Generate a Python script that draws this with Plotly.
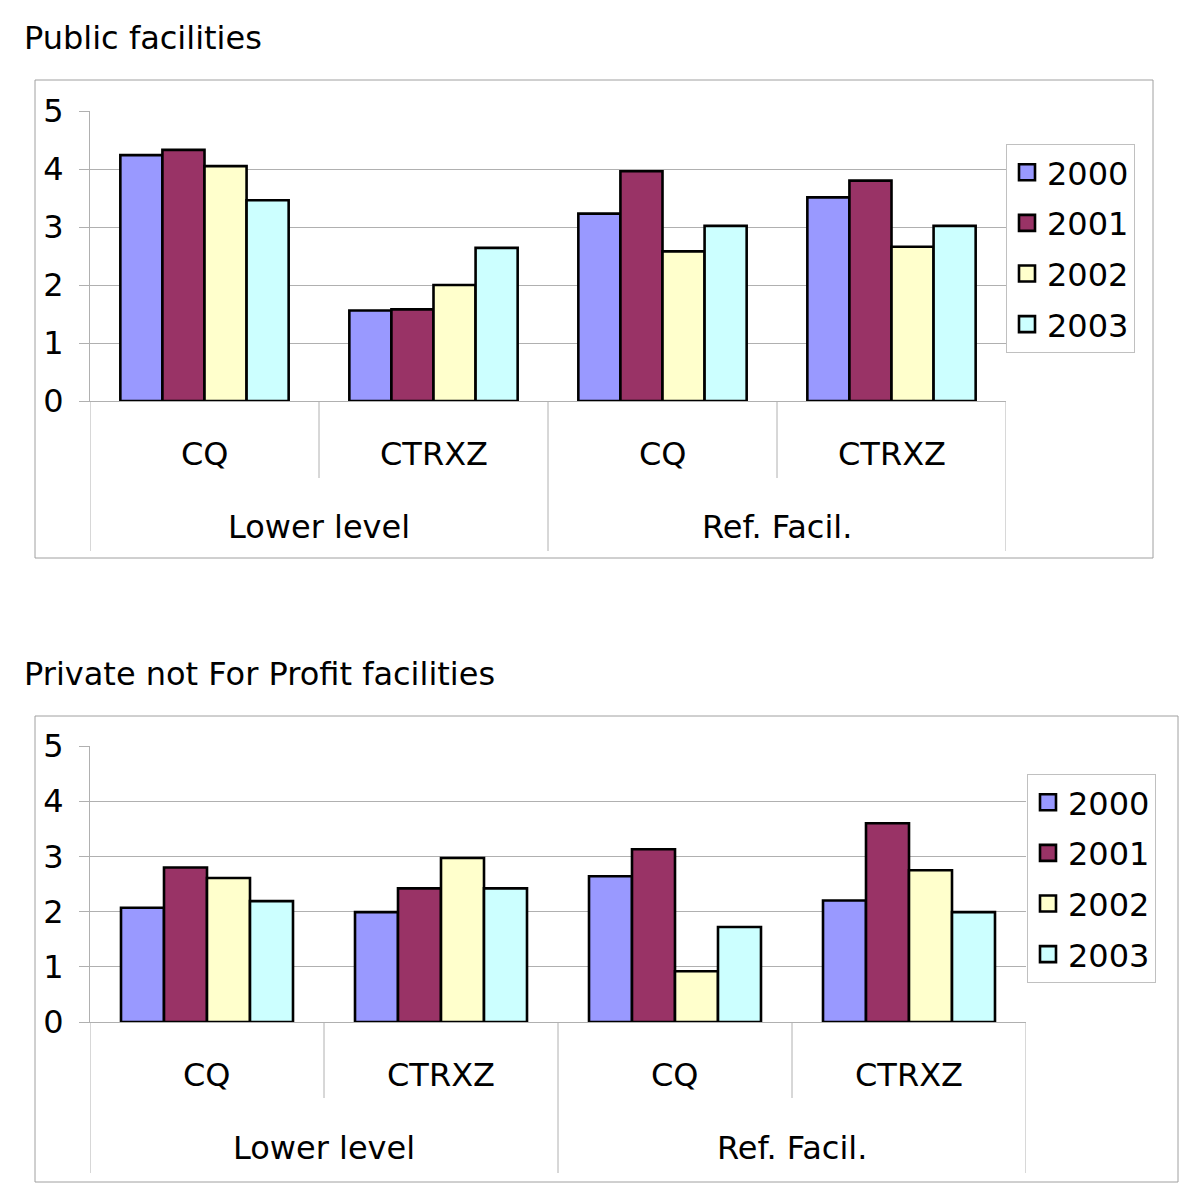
import plotly.graph_objects as go

# ---------------- data ----------------
years = ["2000", "2001", "2002", "2003"]
inner_labels = ["CQ", "CTRXZ", "CQ", "CTRXZ"]
outer_labels = ["Lower level", "Ref. Facil."]
colors = ["#9999FF", "#993366", "#FFFFCC", "#CCFFFF"]

public_2000 = [4.24, 1.56, 3.23, 3.51]
public_2001 = [4.33, 1.58, 3.96, 3.80]
public_2002 = [4.05, 2.00, 2.58, 2.66]
public_2003 = [3.46, 2.64, 3.02, 3.02]

private_2000 = [2.07, 1.99, 2.64, 2.20]
private_2001 = [2.80, 2.42, 3.13, 3.60]
private_2002 = [2.61, 2.97, 0.92, 2.75]
private_2003 = [2.19, 2.42, 1.72, 1.99]

titles = ["Public facilities", "Private not For Profit facilities"]
y_ticks = [0, 1, 2, 3, 4, 5]

public_series = [public_2000, public_2001, public_2002, public_2003]
private_series = [private_2000, private_2001, private_2002, private_2003]

# ---------------- layout helpers ----------------
OFF = 8            # page body margin of the html page
W = H = 1200 - OFF
FONT = "DejaVu Sans, Arial, sans-serif"
GRID = "#b0b0b0"
FS = 32


def fx(px):
    return (px - OFF) / W


def fy(py):
    return 1 - (py - OFF) / H


x_pos = list(range(len(inner_labels)))

fig = go.Figure()

panels = [
    dict(series=public_series, xa="x", ya="y", legend="legend",
         plot=(90, 1006, 111, 401), box=(35, 1153, 80, 558), title_y=38,
         inner_y=454, outer_y=527, short_end=478, long_end=551,
         legend_xy=(1006, 144)),
    dict(series=private_series, xa="x2", ya="y2", legend="legend2",
         plot=(90, 1026, 746, 1022), box=(35, 1178, 716, 1182), title_y=674,
         inner_y=1075, outer_y=1148, short_end=1098, long_end=1173,
         legend_xy=(1027, 774)),
]

shapes = []
annotations = []
for i, p in enumerate(panels):
    for yr, vals, col in zip(years, p["series"], colors):
        fig.add_trace(go.Bar(
            x=x_pos, y=vals, name=yr, xaxis=p["xa"], yaxis=p["ya"],
            showlegend=False,
            marker=dict(color=col, line=dict(color="black", width=2.6)),
        ))
    # legend entries (square swatches like the original legend)
    for yr, col in zip(years, colors):
        fig.add_trace(go.Scatter(
            x=[None], y=[None], mode="markers", name=yr,
            xaxis=p["xa"], yaxis=p["ya"], legend=p["legend"],
            legendgroup=f"{p['legend']}_{yr}",
            marker=dict(symbol="square", size=24, color=col,
                        line=dict(color="black", width=2.6)),
        ))
    x0, x1, y0, y1 = p["plot"]
    suffix = "" if i == 0 else "2"
    fig.layout["xaxis" + suffix] = dict(
        domain=[fx(x0), fx(x1)], range=[-0.5, len(inner_labels) - 0.5],
        anchor="y" + suffix, showticklabels=False, showgrid=False,
        zeroline=False, showline=True, linecolor=GRID, linewidth=1, ticks="")
    fig.layout["yaxis" + suffix] = dict(
        domain=[fy(y1), fy(y0)], range=[0, 5], tickvals=y_ticks,
        anchor="x" + suffix, showgrid=True, gridcolor=GRID, gridwidth=1,
        zeroline=False, showline=True, linecolor=GRID, linewidth=1,
        ticks="outside", ticklen=10, tickcolor=GRID,
        tickfont=dict(size=FS, color="black", family=FONT),
        ticklabelstandoff=9)
    # outer box
    bx0, bx1, by0, by1 = p["box"]
    shapes.append(dict(type="rect", xref="paper", yref="paper",
                       x0=fx(bx0), x1=fx(bx1), y0=fy(by1), y1=fy(by0),
                       line=dict(color="#a0a0a0", width=1), layer="below"))
    # dividers
    n = len(inner_labels)
    for k in range(n + 1):
        xb = k - 0.5
        long_div = (k % 2 == 0)
        shapes.append(dict(type="line", xref=p["xa"], yref="paper",
                           x0=xb, x1=xb, y0=fy(y1),
                           y1=fy(p["long_end"] if long_div else p["short_end"]),
                           line=dict(color=GRID, width=1)))
    # category labels
    for k, lab in enumerate(inner_labels):
        annotations.append(dict(text=lab, x=k, xref=p["xa"], y=fy(p["inner_y"]),
                                yref="paper", showarrow=False, yanchor="middle",
                                font=dict(size=FS, color="black", family=FONT)))
    for g, lab in enumerate(outer_labels):
        annotations.append(dict(text=lab, x=2 * g + 0.5, xref=p["xa"],
                                y=fy(p["outer_y"]), yref="paper", showarrow=False,
                                yanchor="middle",
                                font=dict(size=FS, color="black", family=FONT)))
    # panel title
    annotations.append(dict(text=titles[i], x=fx(22), xref="paper", xanchor="left",
                            y=fy(p["title_y"]), yref="paper", yanchor="middle",
                            showarrow=False,
                            font=dict(size=FS, color="black", family=FONT)))
    lx, ly = p["legend_xy"]
    fig.layout[p["legend"]] = dict(
        x=fx(lx), y=fy(ly), xanchor="left", yanchor="top",
        bordercolor="#c0c0c0", borderwidth=1, bgcolor="white",
        font=dict(size=FS, color="black", family=FONT),
        tracegroupgap=6, itemwidth=30, itemsizing="trace")

fig.update_layout(
    width=W, height=H,
    margin=dict(l=0, r=0, t=0, b=0, pad=0, autoexpand=False),
    paper_bgcolor="white", plot_bgcolor="white",
    barmode="group", bargap=0.265, bargroupgap=0,
    shapes=shapes, annotations=annotations, showlegend=True,
    font=dict(family=FONT, color="black"),
)

fig.write_html("out.html")
